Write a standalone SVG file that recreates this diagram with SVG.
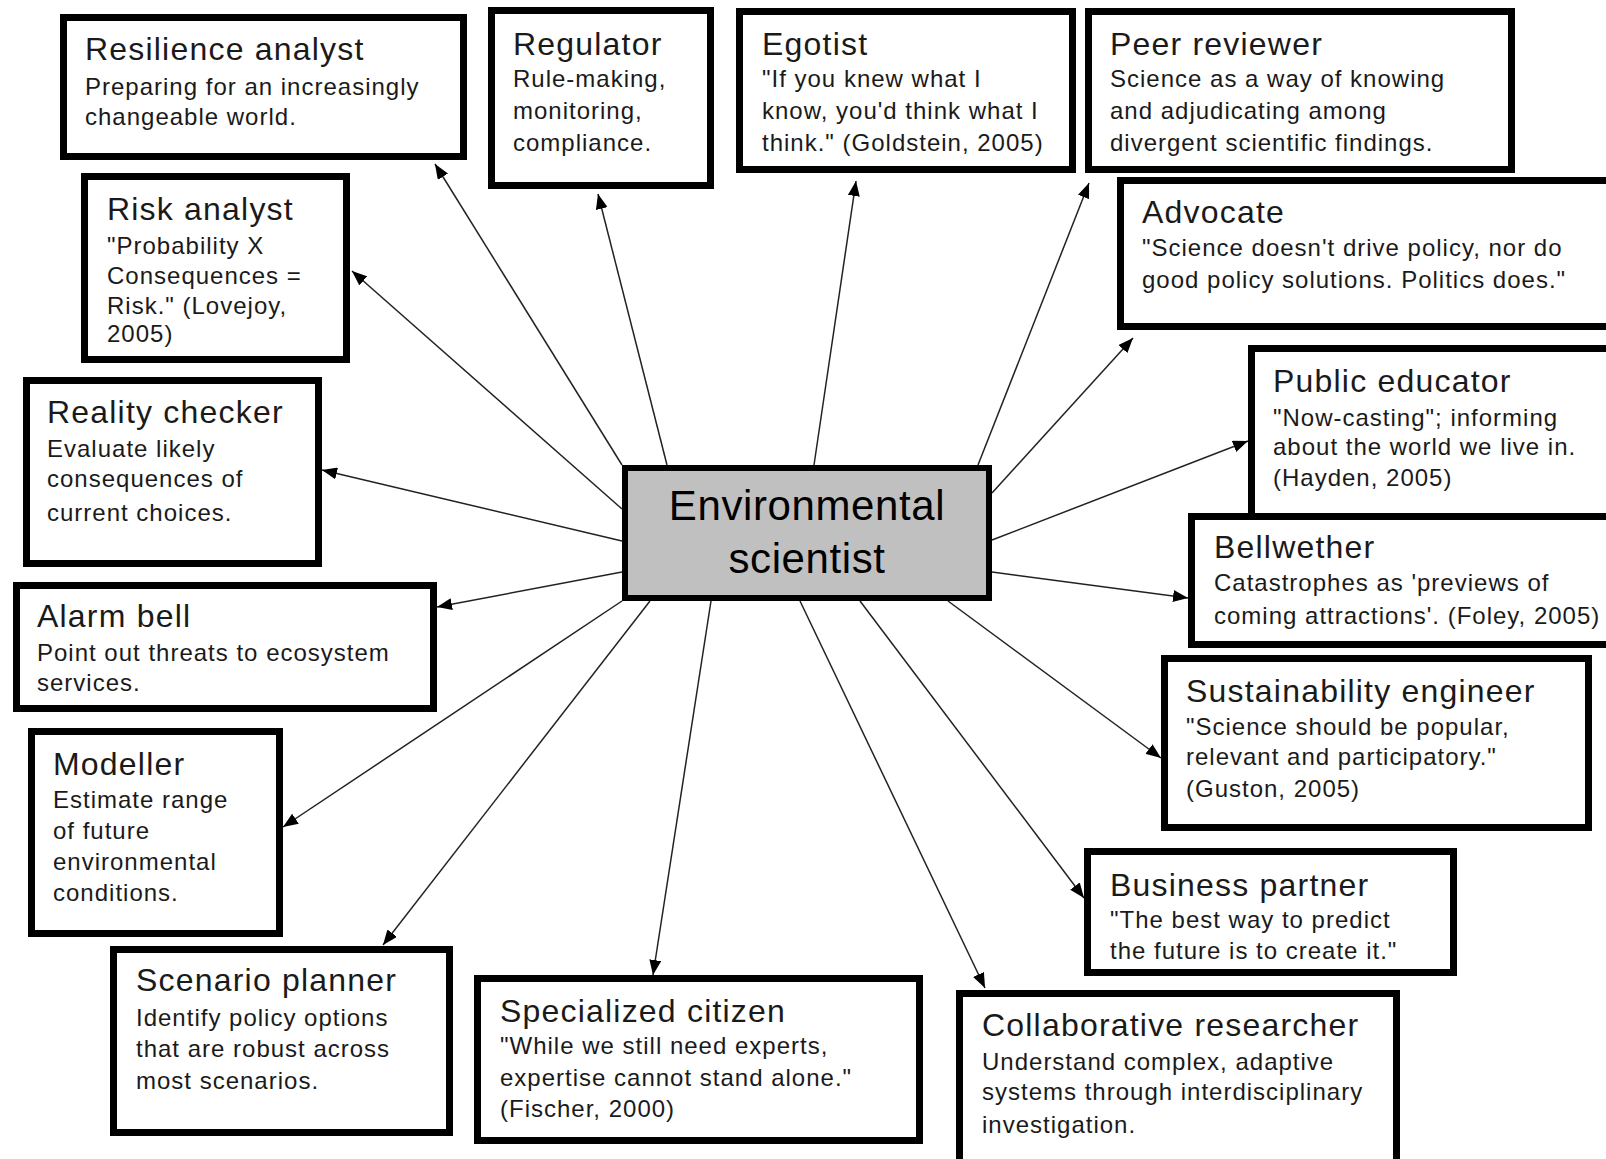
<svg xmlns="http://www.w3.org/2000/svg" width="1606" height="1159" viewBox="0 0 1606 1159">
<style>
.box{fill:#fff;stroke:#000;stroke-width:7}
.center{fill:#c0c0c0;stroke:#000;stroke-width:6}
.t{font-family:"Liberation Sans",Arial,sans-serif;font-size:32px;letter-spacing:1.2px;fill:#1a1a1a}
.b{font-family:"Liberation Sans",Arial,sans-serif;font-size:24px;letter-spacing:1px;fill:#1a1a1a}
.c{font-family:"Liberation Sans",Arial,sans-serif;font-size:42px;letter-spacing:0.6px;fill:#000;text-anchor:middle}
.conn line{stroke:#222;stroke-width:1.5;marker-end:url(#ah)}
</style>
<defs>
<marker id="ah" markerUnits="userSpaceOnUse" markerWidth="15" markerHeight="12" refX="15" refY="6" orient="auto">
<path d="M0,0 L15,6 L0,12 Z" fill="#000"/>
</marker>
</defs>
<rect width="1606" height="1159" fill="#fff"/>
<g id="connectors" class="conn">
<line x1="622" y1="465" x2="435" y2="164"/>
<line x1="667" y1="465" x2="598" y2="194"/>
<line x1="814" y1="465" x2="856" y2="181"/>
<line x1="978" y1="465" x2="1089" y2="183"/>
<line x1="992" y1="493" x2="1133" y2="338"/>
<line x1="992" y1="540" x2="1248" y2="441"/>
<line x1="992" y1="572" x2="1188" y2="598"/>
<line x1="948" y1="601" x2="1161" y2="758"/>
<line x1="860" y1="601" x2="1084" y2="898"/>
<line x1="800" y1="601" x2="985" y2="988"/>
<line x1="711" y1="601" x2="653" y2="975"/>
<line x1="650" y1="601" x2="383" y2="945"/>
<line x1="622" y1="601" x2="283" y2="827"/>
<line x1="622" y1="572" x2="437" y2="607"/>
<line x1="622" y1="541" x2="322" y2="470"/>
<line x1="622" y1="509" x2="352" y2="271"/>
</g>
<g id="center">
<rect class="center" x="625" y="468" width="364" height="130"/>
<text class="c" x="807" y="520">Environmental</text>
<text class="c" x="807" y="573">scientist</text>
</g>
<g id="resilience">
<rect class="box" x="63.5" y="17.5" width="400" height="139"/>
<text class="t" x="85" y="60">Resilience analyst</text>
<text class="b" x="85" y="95">Preparing for an increasingly</text>
<text class="b" x="85" y="125">changeable world.</text>
</g>
<g id="risk">
<rect class="box" x="84.5" y="176.5" width="262" height="183"/>
<text class="t" x="107" y="220">Risk analyst</text>
<text class="b" x="107" y="254">"Probability X</text>
<text class="b" x="107" y="284">Consequences =</text>
<text class="b" x="107" y="314">Risk." (Lovejoy,</text>
<text class="b" x="107" y="342">2005)</text>
</g>
<g id="regulator">
<rect class="box" x="491.5" y="10.5" width="219" height="175"/>
<text class="t" x="513" y="55">Regulator</text>
<text class="b" x="513" y="87">Rule-making,</text>
<text class="b" x="513" y="119">monitoring,</text>
<text class="b" x="513" y="151">compliance.</text>
</g>
<g id="egotist">
<rect class="box" x="739.5" y="11.5" width="333" height="158"/>
<text class="t" x="762" y="55">Egotist</text>
<text class="b" x="762" y="87">"If you knew what I</text>
<text class="b" x="762" y="119">know, you'd think what I</text>
<text class="b" x="762" y="151" letter-spacing="0.6">think." (Goldstein, 2005)</text>
</g>
<g id="peer-reviewer">
<rect class="box" x="1088.5" y="11.5" width="423" height="158"/>
<text class="t" x="1110" y="55">Peer reviewer</text>
<text class="b" x="1110" y="87">Science as a way of knowing</text>
<text class="b" x="1110" y="119">and adjudicating among</text>
<text class="b" x="1110" y="151">divergent scientific findings.</text>
</g>
<g id="advocate">
<rect class="box" x="1120.5" y="180.5" width="520" height="146"/>
<text class="t" x="1142" y="223">Advocate</text>
<text class="b" x="1142" y="256">"Science doesn't drive policy, nor do</text>
<text class="b" x="1142" y="288">good policy solutions. Politics does."</text>
</g>
<g id="public-educator">
<rect class="box" x="1251.5" y="348.5" width="400" height="175"/>
<text class="t" x="1273" y="392">Public educator</text>
<text class="b" x="1273" y="426">"Now-casting"; informing</text>
<text class="b" x="1273" y="455">about the world we live in.</text>
<text class="b" x="1273" y="486">(Hayden, 2005)</text>
</g>
<g id="bellwether">
<rect class="box" x="1191.5" y="516.5" width="450" height="128"/>
<text class="t" x="1214" y="558">Bellwether</text>
<text class="b" x="1214" y="591">Catastrophes as 'previews of</text>
<text class="b" x="1214" y="624" letter-spacing="0.7">coming attractions'. (Foley, 2005)</text>
</g>
<g id="sustainability-engineer">
<rect class="box" x="1164.5" y="658.5" width="424" height="169"/>
<text class="t" x="1186" y="702">Sustainability engineer</text>
<text class="b" x="1186" y="735">"Science should be popular,</text>
<text class="b" x="1186" y="765">relevant and participatory."</text>
<text class="b" x="1186" y="797">(Guston, 2005)</text>
</g>
<g id="business-partner">
<rect class="box" x="1087.5" y="851.5" width="366" height="121"/>
<text class="t" x="1110" y="896">Business partner</text>
<text class="b" x="1110" y="928">"The best way to predict</text>
<text class="b" x="1110" y="959">the future is to create it."</text>
</g>
<g id="collaborative-researcher">
<rect class="box" x="959.5" y="993.5" width="437" height="200"/>
<text class="t" x="982" y="1036">Collaborative researcher</text>
<text class="b" x="982" y="1070">Understand complex, adaptive</text>
<text class="b" x="982" y="1100">systems through interdisciplinary</text>
<text class="b" x="982" y="1133">investigation.</text>
</g>
<g id="specialized-citizen">
<rect class="box" x="477.5" y="978.5" width="442" height="162"/>
<text class="t" x="500" y="1022">Specialized citizen</text>
<text class="b" x="500" y="1054">"While we still need experts,</text>
<text class="b" x="500" y="1086">expertise cannot stand alone."</text>
<text class="b" x="500" y="1117">(Fischer, 2000)</text>
</g>
<g id="scenario-planner">
<rect class="box" x="113.5" y="949.5" width="336" height="183"/>
<text class="t" x="136" y="991">Scenario planner</text>
<text class="b" x="136" y="1026">Identify policy options</text>
<text class="b" x="136" y="1057">that are robust across</text>
<text class="b" x="136" y="1089">most scenarios.</text>
</g>
<g id="modeller">
<rect class="box" x="31.5" y="731.5" width="248" height="202"/>
<text class="t" x="53" y="775">Modeller</text>
<text class="b" x="53" y="808">Estimate range</text>
<text class="b" x="53" y="839">of future</text>
<text class="b" x="53" y="870">environmental</text>
<text class="b" x="53" y="901">conditions.</text>
</g>
<g id="alarm-bell">
<rect class="box" x="16.5" y="585.5" width="417" height="123"/>
<text class="t" x="37" y="627">Alarm bell</text>
<text class="b" x="37" y="661">Point out threats to ecosystem</text>
<text class="b" x="37" y="691">services.</text>
</g>
<g id="reality-checker">
<rect class="box" x="26.5" y="380.5" width="292" height="183"/>
<text class="t" x="47" y="423">Reality checker</text>
<text class="b" x="47" y="457">Evaluate likely</text>
<text class="b" x="47" y="487">consequences of</text>
<text class="b" x="47" y="521">current choices.</text>
</g>
</svg>
